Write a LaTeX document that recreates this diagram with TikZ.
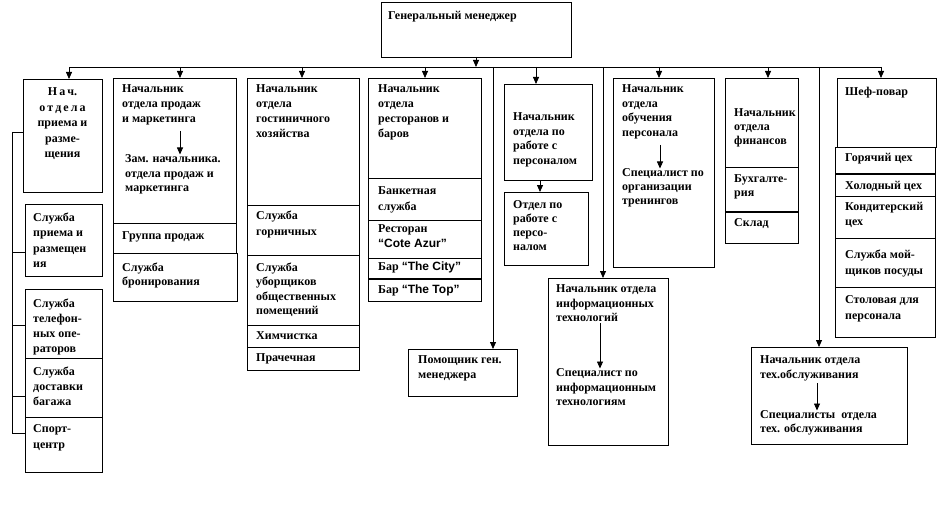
\documentclass[tikz,border=0pt]{standalone}
\usepackage{fontspec}
\setmainfont{Liberation Serif}
\newfontfamily\arialf{Liberation Sans}
\usetikzlibrary{arrows.meta}
\newcommand\bx[5]{\node[box, minimum width={(#4-#2)*1pt}, minimum height={(#5-#3)*1pt}] (#1) at (#2,#3) {};}
\begin{document}
\begin{tikzpicture}[x=1pt,y=-1pt,
 box/.style={draw, line width=0.8pt, anchor=north west, inner sep=0pt, outer sep=0pt},
 txt/.style={anchor=north west, inner sep=0pt, yshift=-1.5pt, align=left, font=\fontsize{12}{15}\selectfont\bfseries},
 sp/.style={font=\fontsize{12}{#1}\selectfont\bfseries},
 arr/.style={line width=0.8pt, -{Triangle[width=6pt,length=7pt]}},
 ln/.style={line width=0.8pt},
 thk/.style={line width=2pt}]
\useasboundingbox (0,0) rectangle (937,524);
% boxes
\bx{gm}{381}{2}{571}{57}
\bx{b1}{23}{79}{102}{192}
\bx{b1a}{25}{204}{102}{276}
\bx{b1b}{25}{289}{102}{358}
\bx{b1c}{25}{358}{102}{417}
\bx{b1d}{25}{417}{102}{472}
\bx{s1}{113}{78}{236}{223}
\bx{s2}{113}{223}{236}{253}
\bx{s3}{113}{253}{237}{301}
\bx{h1}{247}{78}{359}{205}
\bx{h2}{247}{205}{359}{255}
\bx{h3}{247}{255}{359}{325}
\bx{h4}{247}{325}{359}{347}
\bx{h5}{247}{347}{359}{370}
\bx{r1}{368}{78}{481}{178}
\bx{r2}{368}{178}{481}{220}
\bx{r3}{368}{220}{481}{258}
\bx{r4}{368}{258}{481}{279}
\bx{r5}{368}{279}{481}{301}
\bx{p1}{504}{84}{592}{180}
\bx{p2}{504}{192}{588}{265}
\bx{t1}{613}{78}{714}{267}
\bx{f1}{725}{78}{798}{167}
\bx{f2}{725}{167}{798}{212}
\bx{f3}{725}{212}{798}{243}
\bx{c1}{837}{78}{936}{147}
\bx{c2}{835}{147}{935}{174}
\bx{c3}{835}{174}{935}{196}
\bx{c4}{835}{196}{935}{238}
\bx{c5}{835}{238}{935}{287}
\bx{c6}{835}{287}{935}{337}
\bx{asst}{408}{349}{517}{396}
\bx{it}{548}{278}{668}{445}
\bx{tc}{751}{347}{907}{444}
% thick dividers
\draw[thk] (r5.north west) -- (r5.north east);
\draw[thk] (f3.north west) -- (f3.north east);
\draw[thk] (c3.north west) -- (c3.north east);
% texts
\node[txt] (gmT) at (388,10) {Генеральный менеджер};
\node[txt, anchor=north, align=center, sp=15.5] (b1T) at (62.5,86) {Н\,а\,ч.\\о\,т\,д\,е\,л\,а\\приема и\\разме-\\щения};
\node[txt, sp=15.5] (b1aT) at (33,211) {Служба\\приема и\\размещен\\ия};
\node[txt, sp=15] (b1bT) at (33,297) {Служба\\телефон-\\ных опе-\\раторов};
\node[txt] (b1cT) at (33,365) {Служба\\доставки\\багажа};
\node[txt, sp=16] (b1dT) at (33,423) {Спорт-\\центр};
\node[txt] (sT) at (122,83) {Начальник\\отдела продаж\\и маркетинга};
\node[txt, sp=14.5] (sT2) at (125,153) {Зам. начальника.\\отдела продаж и\\маркетинга};
\node[txt] (sT3) at (122,230) {Группа продаж};
\node[txt, sp=14] (sT4) at (122,261) {Служба\\бронирования};
\node[txt] (hT) at (256,83) {Начальник\\отдела\\гостиничного\\хозяйства};
\node[txt, sp=16] (hT2) at (256,209) {Служба\\горничных};
\node[txt, sp=14.5] (hT3) at (256,261) {Служба\\уборщиков\\общественных\\помещений};
\node[txt] (hT4) at (256,330) {Химчистка};
\node[txt] (hT5) at (256,352) {Прачечная};
\node[txt] (rT) at (378,83) {Начальник\\отдела\\ресторанов и\\баров};
\node[txt, sp=16] (rT2) at (378,185) {Банкетная\\служба};
\node[txt, sp=15] (rT3) at (378,223) {Ресторан\\{\arialf “Cote Azur”}};
\node[txt] (rT4) at (378,260) {Бар {\arialf “The City”}};
\node[txt] (rT5) at (378,283) {Бар {\arialf “The Top”}};
\node[txt, sp=14.5] (pT) at (513,111) {Начальник\\отдела по\\работе с\\персоналом};
\node[txt, sp=14] (pT2) at (513,199) {Отдел по\\работе с\\персо-\\налом};
\node[txt, sp=14.5] (tT) at (622,83) {Начальник\\отдела\\обучения\\персонала};
\node[txt, sp=14] (tT2) at (622,167) {Специалист по\\организации\\тренингов};
\node[txt, sp=14] (fT) at (734,107) {Начальник\\отдела\\финансов};
\node[txt, sp=14] (fT2) at (734,173) {Бухгалте-\\рия};
\node[txt] (fT3) at (734,217) {Склад};
\node[txt] (cT) at (845,85) {Шеф-повар};
\node[txt] (cT2) at (845,152) {Горячий цех};
\node[txt] (cT3) at (845,180) {Холодный цех};
\node[txt] (cT4) at (845,201) {Кондитерский\\цех};
\node[txt, sp=16] (cT5) at (845,248) {Служба мой-\\щиков посуды};
\node[txt, sp=16] (cT6) at (845,294) {Столовая для\\персонала};
\node[txt] (aT) at (418,354) {Помощник ген.\\менеджера};
\node[txt, sp=14.5] (iT) at (556,283) {Начальник отдела\\информационных\\технологий};
\node[txt, sp=14.5] (iT2) at (556,367) {Специалист по\\информационным\\технологиям};
\node[txt, sp=14.5] (tcT) at (760,354) {Начальник отдела\\тех.обслуживания};
\node[txt, sp=14] (tcT2) at (760,409) {Специалисты~ отдела\\тех. обслуживания};
% main bar
\coordinate (j1) at (69,67);
\coordinate (j2) at (180,67);
\coordinate (j3) at (302,67);
\coordinate (j4) at (425,67);
\coordinate (j5) at (536,67);
\coordinate (j6) at (659,67);
\coordinate (j7) at (768,67);
\coordinate (j8) at (881,67);
\coordinate (j9) at (493,67);
\coordinate (j10) at (603,67);
\coordinate (j11) at (819,67);
\draw[ln] (j1) -- (j8);
\draw[arr] (gm.south) -- (gm.south |- j1);
\draw[arr] (j1) -- (j1 |- b1.north);
\draw[arr] (j2) -- (j2 |- s1.north);
\draw[arr] (j3) -- (j3 |- h1.north);
\draw[arr] (j4) -- (j4 |- r1.north);
\draw[arr] (j5) -- (j5 |- p1.north);
\draw[arr] (j6) -- (j6 |- t1.north);
\draw[arr] (j7) -- (j7 |- f1.north);
\draw[arr] (j8) -- (j8 |- c1.north);
\draw[arr] (j9) -- (j9 |- asst.north);
\draw[arr] (j10) -- (j10 |- it.north);
\draw[arr] (j11) -- (j11 |- tc.north);
\draw[arr] ([xshift=-8pt]p1.south) -- ([xshift=-8pt]p1.south |- p2.north);
% inner arrows
\coordinate (sa1) at (180,131);
\coordinate (ta1) at (660,145);
\coordinate (ia1) at (600,323);
\coordinate (ca1) at (817,383);
\draw[arr] (sa1) -- (sa1 |- sT2.north);
\draw[arr] (ta1) -- (ta1 |- tT2.north);
\draw[arr] (ia1) -- (ia1 |- iT2.north);
\draw[arr] (ca1) -- (ca1 |- tcT2.north);
% left bracket
\coordinate (k0) at (12,132);
\coordinate (k1) at (12,252);
\coordinate (k2) at (12,325);
\coordinate (k3) at (12,396);
\coordinate (k4) at (12,433);
\draw[ln] (k0) -- (k4);
\draw[ln] (k0) -- (k0 -| b1.west);
\draw[ln] (k1) -- (k1 -| b1a.west);
\draw[ln] (k2) -- (k2 -| b1b.west);
\draw[ln] (k3) -- (k3 -| b1c.west);
\draw[ln] (k4) -- (k4 -| b1d.west);
\end{tikzpicture}
\end{document}
